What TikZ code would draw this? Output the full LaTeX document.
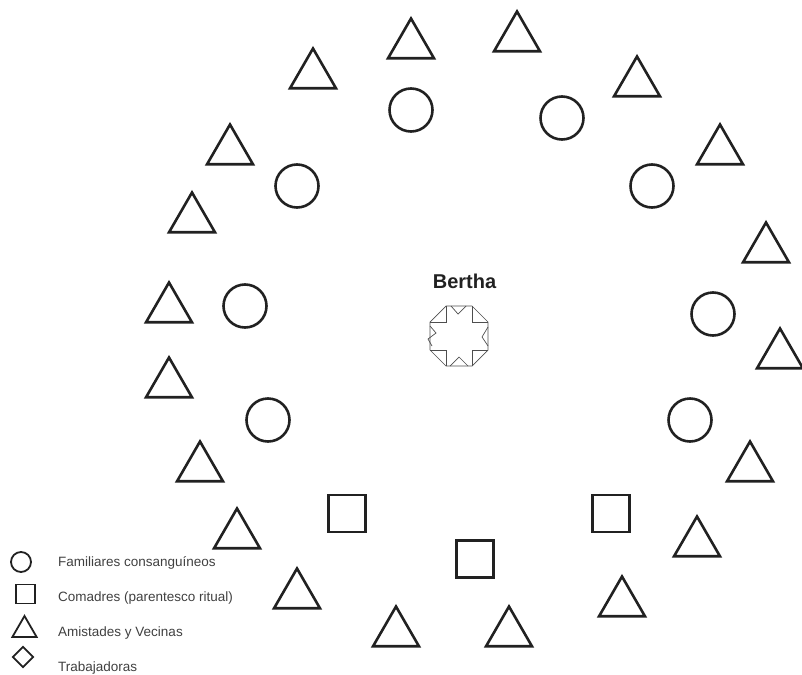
\documentclass[tikz,border=0pt]{standalone}
\usepackage{fontspec}
\setmainfont{Liberation Sans}
\usepackage{xcolor}
\usetikzlibrary{shapes.geometric}
\definecolor{ink}{rgb}{0.13,0.13,0.13}
\definecolor{txt}{rgb}{0.25,0.25,0.25}

\begin{document}
\begin{tikzpicture}[x=1pt,y=-1pt,
  fam/.style={circle,draw=ink,line width=2.6pt,minimum size=43pt,inner sep=0pt},
  com/.style={rectangle,draw=ink,line width=2.6pt,minimum size=37pt,inner sep=0pt},
  ami/.style={regular polygon,regular polygon sides=3,draw=ink,line width=2.6pt,
    minimum size=53pt,inner sep=0pt},
  famkey/.style={fam,line width=1.8pt,minimum size=20pt},
  comkey/.style={com,line width=1.8pt,minimum size=19pt},
  amikey/.style={ami,line width=1.8pt,minimum size=28pt},
  trakey/.style={diamond,draw=ink,line width=1.8pt,aspect=1,minimum size=21pt,inner sep=0pt},
  keytext/.style={anchor=base west,text=txt,inner sep=0pt,
    font=\fontsize{13.5}{16}\selectfont},
  ego/.style={draw=ink!80,line width=0.7pt,line join=miter}]
  \useasboundingbox (0,0) rectangle (802,674);

  % familiares (circulos)
  \node[fam] (f1) at (411,110) {};
  \node[fam] (f2) at (562,118) {};
  \node[fam] (f3) at (297,186) {};
  \node[fam] (f4) at (652,186) {};
  \node[fam] (f5) at (245,306) {};
  \node[fam] (f6) at (713,314) {};
  \node[fam] (f7) at (268,420) {};
  \node[fam] (f8) at (690,420) {};

  % comadres (cuadrados)
  \node[com] (c1) at (347,513.5) {};
  \node[com] (c2) at (475,559) {};
  \node[com] (c3) at (611,513.5) {};

  % amistades y vecinas (triangulos)
  \node[ami] (a1) at (411,45) {};
  \node[ami] (a2) at (517,38) {};
  \node[ami] (a3) at (313,75) {};
  \node[ami] (a4) at (637,83) {};
  \node[ami] (a5) at (230,151) {};
  \node[ami] (a6) at (720,151) {};
  \node[ami] (a7) at (192,219) {};
  \node[ami] (a8) at (766,249) {};
  \node[ami] (a9) at (169,309) {};
  \node[ami] (a10) at (780,355) {};
  \node[ami] (a11) at (169,384) {};
  \node[ami] (a12) at (200,468) {};
  \node[ami] (a13) at (750,468) {};
  \node[ami] (a14) at (237,535) {};
  \node[ami] (a15) at (697,543) {};
  \node[ami] (a16) at (297,595) {};
  \node[ami] (a17) at (622,603) {};
  \node[ami] (a18) at (396,633) {};
  \node[ami] (a19) at (509,633) {};

  % ego
  \node[anchor=base,text=ink,inner sep=0pt,font=\fontsize{20}{24}\selectfont\bfseries]
    (bertha) at (464.5,288) {Bertha};
  \begin{scope}[shift={(459,336)},ego]
    \draw (-13,-30) -- (13,-30) -- (29,-14) -- (29,14) -- (13,30) -- (-13,30)
      -- (-29,14) -- (-29,-14) -- cycle;
    \draw (-13,-30) -- (-13,-14) -- (-29,-14);
    \draw (13,-30) -- (13,-14) -- (29,-14);
    \draw (-13,30) -- (-13,14) -- (-29,14);
    \draw (13,30) -- (13,14) -- (29,14);
    \draw (-8,-30) -- (-1,-22) -- (7,-30);
    \draw (-9,30) -- (0,21) -- (9,30);
    \draw (-29,-10) -- (-23,-3) -- (-31,3) -- (-27,10);
    \draw (29,-9) -- (23,1) -- (29,10);
  \end{scope}

  % leyenda
  \node[famkey] (kf) at (21,562) {};
  \node[comkey] (kc) at (25.5,594) {};
  \node[amikey] (ka) at (24.5,630) {};
  \node[trakey] (kt) at (23,657) {};
  \node[keytext] (tf) at (58,566) {Familiares consanguíneos};
  \node[keytext] (tc) at (58,601) {Comadres (parentesco ritual)};
  \node[keytext] (ta) at (58,636.5) {Amistades y Vecinas};
  \node[keytext] (tt) at (58,671) {Trabajadoras};
\end{tikzpicture}
\end{document}
